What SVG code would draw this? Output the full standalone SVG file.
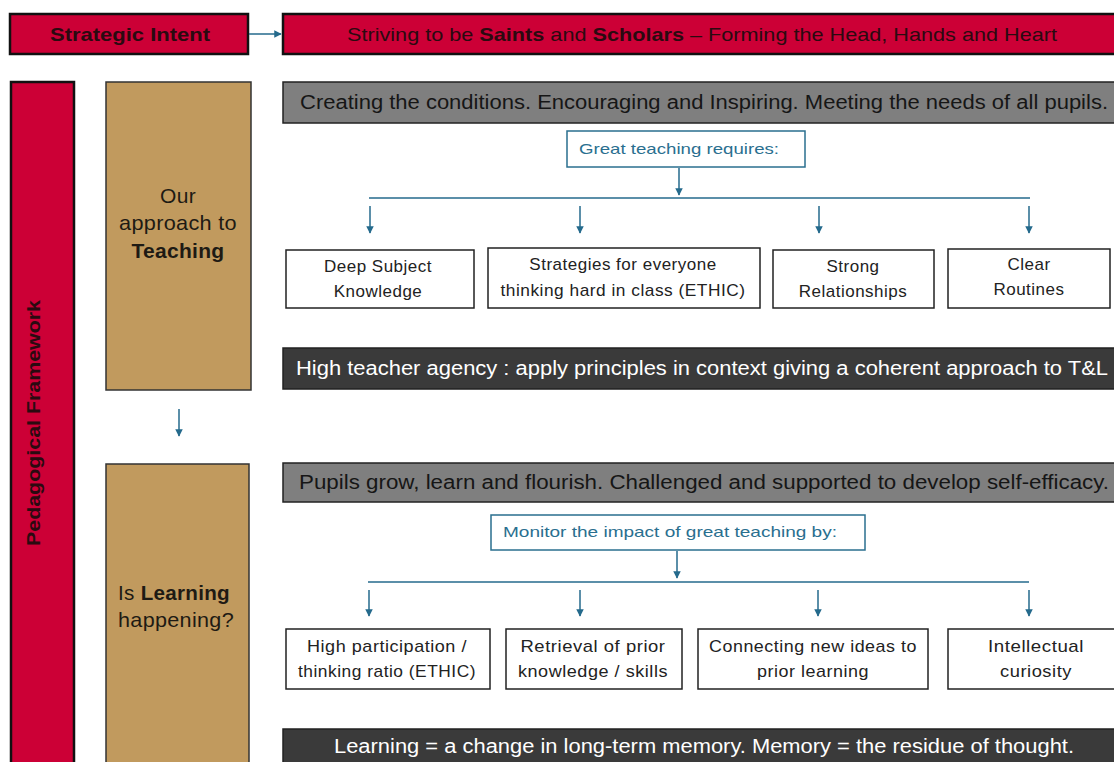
<svg xmlns="http://www.w3.org/2000/svg" width="1114" height="762" viewBox="0 0 1114 762">
  <style>
    .red { fill: #cc0036; stroke: #111; stroke-width: 2.5; }
    .tan { fill: #c19a5e; stroke: #333; stroke-width: 1.5; }
    .grey { fill: #7f7f7f; stroke: #222; stroke-width: 1.5; }
    .dark { fill: #3a3a3a; stroke: #222; stroke-width: 1.5; }
    .item { fill: #fff; stroke: #222; stroke-width: 1.5; }
    .lead { fill: #fff; stroke: #2a6f8f; stroke-width: 1.5; }
    text { font-family: "Liberation Sans", Arial, sans-serif; }
    .t-red { font-size: 19px; fill: #2a0a10; }
    .t-tan { font-size: 21px; fill: #1e1a14; letter-spacing: 0.3px; }
    .mid { text-anchor: middle; }
    .t-bar { font-size: 19.5px; fill: #161616; text-anchor: middle; }
    .t-barw { font-size: 19.5px; fill: #fff; text-anchor: middle; }
    .t-item { font-size: 17px; fill: #222; text-anchor: middle; letter-spacing: 0.5px; }
    .t-lead { font-size: 15px; fill: #2a6f8f; text-anchor: middle; }
    .b { font-weight: bold; }
    .conn { stroke: #246a8c; stroke-width: 1.5; fill: none; }
  </style>
  <defs>
    <marker id="arrow" viewBox="0 0 10 10" refX="9" refY="5" markerWidth="5" markerHeight="5" orient="auto-start-reverse">
      <path d="M0,0 L10,5 L0,10 z" fill="#246a8c"/>
    </marker>
  </defs>

  <rect width="1114" height="762" fill="#fff"/>

  <!-- Strategic intent header -->
  <g id="strategic-intent">
    <rect class="red" x="10" y="14" width="238" height="40"/>
    <text class="t-red b" x="130" y="41" text-anchor="middle" font-size="20" textLength="160" lengthAdjust="spacingAndGlyphs">Strategic Intent</text>
  </g>
  <g id="intent-statement">
    <rect class="red" x="283" y="14" width="834" height="40"/>
    <text class="t-red" x="702" y="41" text-anchor="middle" font-size="20" textLength="710" lengthAdjust="spacingAndGlyphs">Striving to be <tspan class="b">Saints</tspan> and <tspan class="b">Scholars</tspan> – Forming the Head, Hands and Heart</text>
  </g>

  <!-- Side band -->
  <g id="pedagogical-framework">
    <rect class="red" x="11" y="82" width="63" height="690"/>
    <text class="t-red b" transform="translate(40,423) rotate(-90)" text-anchor="middle" font-size="18" textLength="246" lengthAdjust="spacingAndGlyphs">Pedagogical Framework</text>
  </g>

  <!-- Teaching stage -->
  <g id="teaching">
    <rect class="tan" x="106" y="82" width="145" height="308"/>
    <text class="t-tan mid" x="178" y="203">Our</text>
    <text class="t-tan mid" x="178" y="230" textLength="118" lengthAdjust="spacingAndGlyphs">approach to</text>
    <text class="t-tan mid b" x="178" y="258" textLength="93" lengthAdjust="spacingAndGlyphs">Teaching</text>
  </g>

  <g id="learning">
    <rect class="tan" x="106" y="464" width="143" height="310"/>
    <text class="t-tan" x="118" y="600" textLength="112" lengthAdjust="spacingAndGlyphs">Is <tspan class="b">Learning</tspan></text>
    <text class="t-tan" x="118" y="627" textLength="116" lengthAdjust="spacingAndGlyphs">happening?</text>
  </g>

  <g id="conditions">
    <rect class="grey" x="283" y="82" width="834" height="41"/>
    <text class="t-bar" x="704" y="109" textLength="808" lengthAdjust="spacingAndGlyphs">Creating the conditions. Encouraging and Inspiring. Meeting the needs of all pupils.</text>
  </g>

  <g id="great-teaching">
    <rect class="lead" x="567" y="131" width="238" height="36"/>
    <text class="t-lead" x="679" y="154" textLength="200" lengthAdjust="spacingAndGlyphs">Great teaching requires:</text>
  </g>

  <g id="deep-subject-knowledge">
    <rect class="item" x="286" y="250" width="188" height="58"/>
    <text class="t-item" x="378" y="272">Deep Subject</text>
    <text class="t-item" x="378" y="297">Knowledge</text>
  </g>
  <g id="strategies">
    <rect class="item" x="488" y="248" width="272" height="60"/>
    <text class="t-item" x="623" y="270">Strategies for everyone</text>
    <text class="t-item" x="623" y="296" textLength="245" lengthAdjust="spacingAndGlyphs">thinking hard in class (ETHIC)</text>
  </g>
  <g id="strong-relationships">
    <rect class="item" x="773" y="250" width="161" height="58"/>
    <text class="t-item" x="853" y="272">Strong</text>
    <text class="t-item" x="853" y="297">Relationships</text>
  </g>
  <g id="clear-routines">
    <rect class="item" x="948" y="249" width="162" height="59"/>
    <text class="t-item" x="1029" y="270">Clear</text>
    <text class="t-item" x="1029" y="295">Routines</text>
  </g>

  <g id="teacher-agency">
    <rect class="dark" x="283" y="348" width="834" height="41"/>
    <text class="t-barw" x="702" y="375" textLength="812" lengthAdjust="spacingAndGlyphs">High teacher agency : apply principles in context giving a coherent approach to T&amp;L</text>
  </g>

  <!-- Learning stage -->
  <g id="pupils-grow">
    <rect class="grey" x="283" y="463" width="834" height="39"/>
    <text class="t-bar" x="704" y="489" textLength="810" lengthAdjust="spacingAndGlyphs">Pupils grow, learn and flourish. Challenged and supported to develop self-efficacy.</text>
  </g>

  <g id="monitor-impact">
    <rect class="lead" x="491" y="515" width="374" height="35"/>
    <text class="t-lead" x="670" y="537" textLength="334" lengthAdjust="spacingAndGlyphs">Monitor the impact of great teaching by:</text>
  </g>

  <g id="high-participation">
    <rect class="item" x="286" y="629" width="204" height="60"/>
    <text class="t-item" x="387" y="652" textLength="160" lengthAdjust="spacingAndGlyphs">High participation /</text>
    <text class="t-item" x="387" y="677" textLength="178" lengthAdjust="spacingAndGlyphs">thinking ratio (ETHIC)</text>
  </g>
  <g id="retrieval">
    <rect class="item" x="506" y="629" width="176" height="60"/>
    <text class="t-item" x="593" y="652" textLength="145" lengthAdjust="spacingAndGlyphs">Retrieval of prior</text>
    <text class="t-item" x="593" y="677" textLength="150" lengthAdjust="spacingAndGlyphs">knowledge / skills</text>
  </g>
  <g id="connecting-ideas">
    <rect class="item" x="698" y="629" width="230" height="60"/>
    <text class="t-item" x="813" y="652" textLength="208" lengthAdjust="spacingAndGlyphs">Connecting new ideas to</text>
    <text class="t-item" x="813" y="677" textLength="112" lengthAdjust="spacingAndGlyphs">prior learning</text>
  </g>
  <g id="intellectual-curiosity">
    <rect class="item" x="948" y="629" width="170" height="60"/>
    <text class="t-item" x="1036" y="652" textLength="96" lengthAdjust="spacingAndGlyphs">Intellectual</text>
    <text class="t-item" x="1036" y="677" textLength="72" lengthAdjust="spacingAndGlyphs">curiosity</text>
  </g>

  <g id="memory">
    <rect class="dark" x="283" y="729" width="834" height="45"/>
    <text class="t-barw" x="704" y="753" textLength="740" lengthAdjust="spacingAndGlyphs">Learning = a change in long-term memory. Memory = the residue of thought.</text>
  </g>

  <!-- Connectors -->
  <g id="connectors">
    <line class="conn" x1="249" y1="34" x2="281" y2="34" marker-end="url(#arrow)"/>
    <line class="conn" x1="179" y1="409" x2="179" y2="436" marker-end="url(#arrow)"/>

    <line class="conn" x1="679" y1="168" x2="679" y2="195" marker-end="url(#arrow)"/>
    <line class="conn" x1="369" y1="198" x2="1030" y2="198"/>
    <line class="conn" x1="370" y1="206" x2="370" y2="233" marker-end="url(#arrow)"/>
    <line class="conn" x1="580" y1="206" x2="580" y2="233" marker-end="url(#arrow)"/>
    <line class="conn" x1="819" y1="206" x2="819" y2="233" marker-end="url(#arrow)"/>
    <line class="conn" x1="1029" y1="206" x2="1029" y2="233" marker-end="url(#arrow)"/>

    <line class="conn" x1="677" y1="551" x2="677" y2="578" marker-end="url(#arrow)"/>
    <line class="conn" x1="368" y1="582" x2="1029" y2="582"/>
    <line class="conn" x1="369" y1="590" x2="369" y2="616" marker-end="url(#arrow)"/>
    <line class="conn" x1="580" y1="590" x2="580" y2="616" marker-end="url(#arrow)"/>
    <line class="conn" x1="818" y1="590" x2="818" y2="616" marker-end="url(#arrow)"/>
    <line class="conn" x1="1029" y1="590" x2="1029" y2="616" marker-end="url(#arrow)"/>
  </g>
</svg>
